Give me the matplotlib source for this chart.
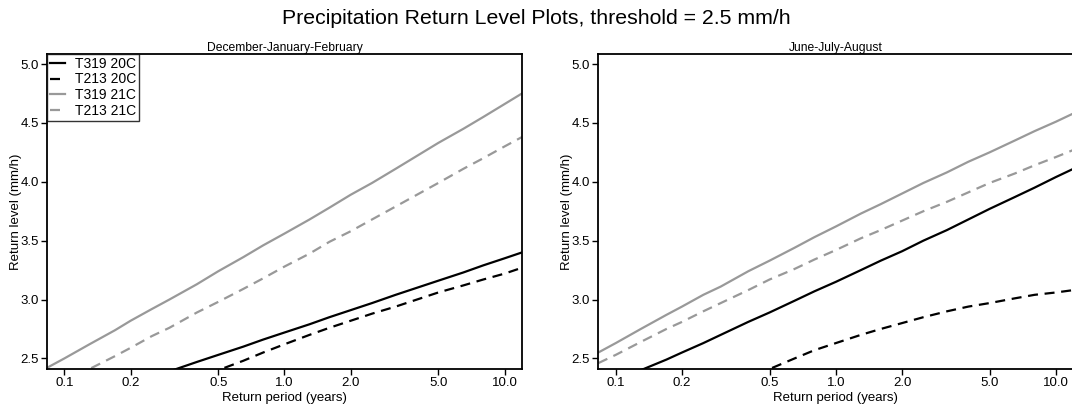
import matplotlib
matplotlib.use("Agg")
import matplotlib.pyplot as plt

plt.rcParams['font.family'] = ['Liberation Sans', 'DejaVu Sans']

# return periods (years)
period = [1/12, 0.1, 0.13, 0.17, 0.2, 0.25, 0.3, 0.4, 0.5, 0.65, 0.8, 1.0,
          1.3, 1.6, 2.0, 2.5, 3.2, 4.0, 5.0, 6.5, 8.0, 10.0, 12.0]

# December-January-February return levels (mm/h)
djf_t319_20c = [2.04, 2.09, 2.16, 2.23, 2.28, 2.34, 2.39, 2.47, 2.53, 2.60, 2.66, 2.72,
                2.79, 2.85, 2.91, 2.97, 3.04, 3.10, 3.16, 3.23, 3.29, 3.35, 3.40]
djf_t213_20c = [1.60, 1.66, 1.75, 1.85, 1.91, 2.00, 2.12, 2.32, 2.40, 2.48, 2.55, 2.62,
                2.70, 2.76, 2.82, 2.88, 2.94, 3.00, 3.06, 3.12, 3.17, 3.22, 3.27]
djf_t319_21c = [2.42, 2.50, 2.62, 2.74, 2.82, 2.92, 3.00, 3.13, 3.24, 3.36, 3.46, 3.56,
                3.68, 3.78, 3.89, 3.99, 4.11, 4.22, 4.33, 4.45, 4.55, 4.66, 4.75]
djf_t213_21c = [2.22, 2.30, 2.41, 2.52, 2.59, 2.69, 2.76, 2.89, 2.98, 3.09, 3.18, 3.28,
                3.39, 3.49, 3.58, 3.68, 3.79, 3.89, 3.99, 4.11, 4.20, 4.30, 4.38]

# June-July-August return levels (mm/h)
jja_t319_20c = [2.23, 2.30, 2.40, 2.49, 2.55, 2.63, 2.70, 2.81, 2.89, 2.99, 3.07, 3.15,
                3.25, 3.33, 3.41, 3.50, 3.59, 3.68, 3.77, 3.87, 3.95, 4.04, 4.11]
jja_t213_20c = [1.56, 1.66, 1.80, 1.94, 2.02, 2.13, 2.22, 2.33, 2.41, 2.50, 2.57, 2.63,
                2.70, 2.75, 2.80, 2.85, 2.90, 2.94, 2.97, 3.01, 3.04, 3.06, 3.08]
jja_t319_21c = [2.55, 2.63, 2.75, 2.87, 2.94, 3.04, 3.11, 3.24, 3.33, 3.44, 3.53, 3.62,
                3.73, 3.81, 3.90, 3.99, 4.08, 4.17, 4.25, 4.35, 4.43, 4.51, 4.58]
jja_t213_21c = [2.46, 2.53, 2.64, 2.75, 2.81, 2.90, 2.97, 3.08, 3.17, 3.26, 3.34, 3.42,
                3.52, 3.59, 3.67, 3.75, 3.83, 3.91, 3.99, 4.07, 4.14, 4.21, 4.27]

xticks = [0.1, 0.2, 0.5, 1.0, 2.0, 5.0, 10.0]
yticks = [2.5, 3.0, 3.5, 4.0, 4.5, 5.0]

gray = '#999999'

fig = plt.figure(figsize=(10.72, 4.13), dpi=100)
fig.suptitle("Precipitation Return Level Plots, threshold = 2.5 mm/h", fontsize=15.3, y=0.978)

ax1 = fig.add_axes([0.0438, 0.1065, 0.4431, 0.7627])
ax2 = fig.add_axes([0.5581, 0.1065, 0.4431, 0.7627])

panels = [
    (ax1, "December-January-February", djf_t319_20c, djf_t213_20c, djf_t319_21c, djf_t213_21c),
    (ax2, "June-July-August", jja_t319_20c, jja_t213_20c, jja_t319_21c, jja_t213_21c),
]

for ax, title, a, b, c, d in panels:
    ax.plot(period, a, color='black', lw=1.6, label='T319 20C')
    ax.plot(period, b, color='black', lw=1.6, dashes=(4.5, 3), label='T213 20C')
    ax.plot(period, c, color=gray, lw=1.6, label='T319 21C')
    ax.plot(period, d, color=gray, lw=1.6, dashes=(4.5, 3), label='T213 21C')
    ax.set_xscale('log')
    ax.set_xlim(1/12, 12)
    ax.set_ylim(2.41, 5.085)
    ax.set_xticks(xticks)
    ax.set_xticklabels([f"{t:.1f}" for t in xticks])
    ax.minorticks_off()
    ax.set_yticks(yticks)
    ax.set_yticklabels([f"{t:.1f}" for t in yticks])
    ax.tick_params(direction='out', length=4, width=1, labelsize=9.5, pad=2)
    for s in ax.spines.values():
        s.set_linewidth(1.3)
    ax.set_title(title, fontsize=8.7, pad=1.5)
    ax.set_xlabel("Return period (years)", fontsize=9.5, labelpad=2)
    ax.set_ylabel("Return level (mm/h)", fontsize=9.5, labelpad=-1)

leg = ax1.legend(loc='upper left', frameon=True, fancybox=False, fontsize=10,
                 handlelength=1.1, handletextpad=0.7, borderpad=0.2,
                 labelspacing=0.12, borderaxespad=0.0)
leg.get_frame().set_edgecolor('black')
leg.get_frame().set_linewidth(1.0)

fig.savefig("out.png", dpi=100)
